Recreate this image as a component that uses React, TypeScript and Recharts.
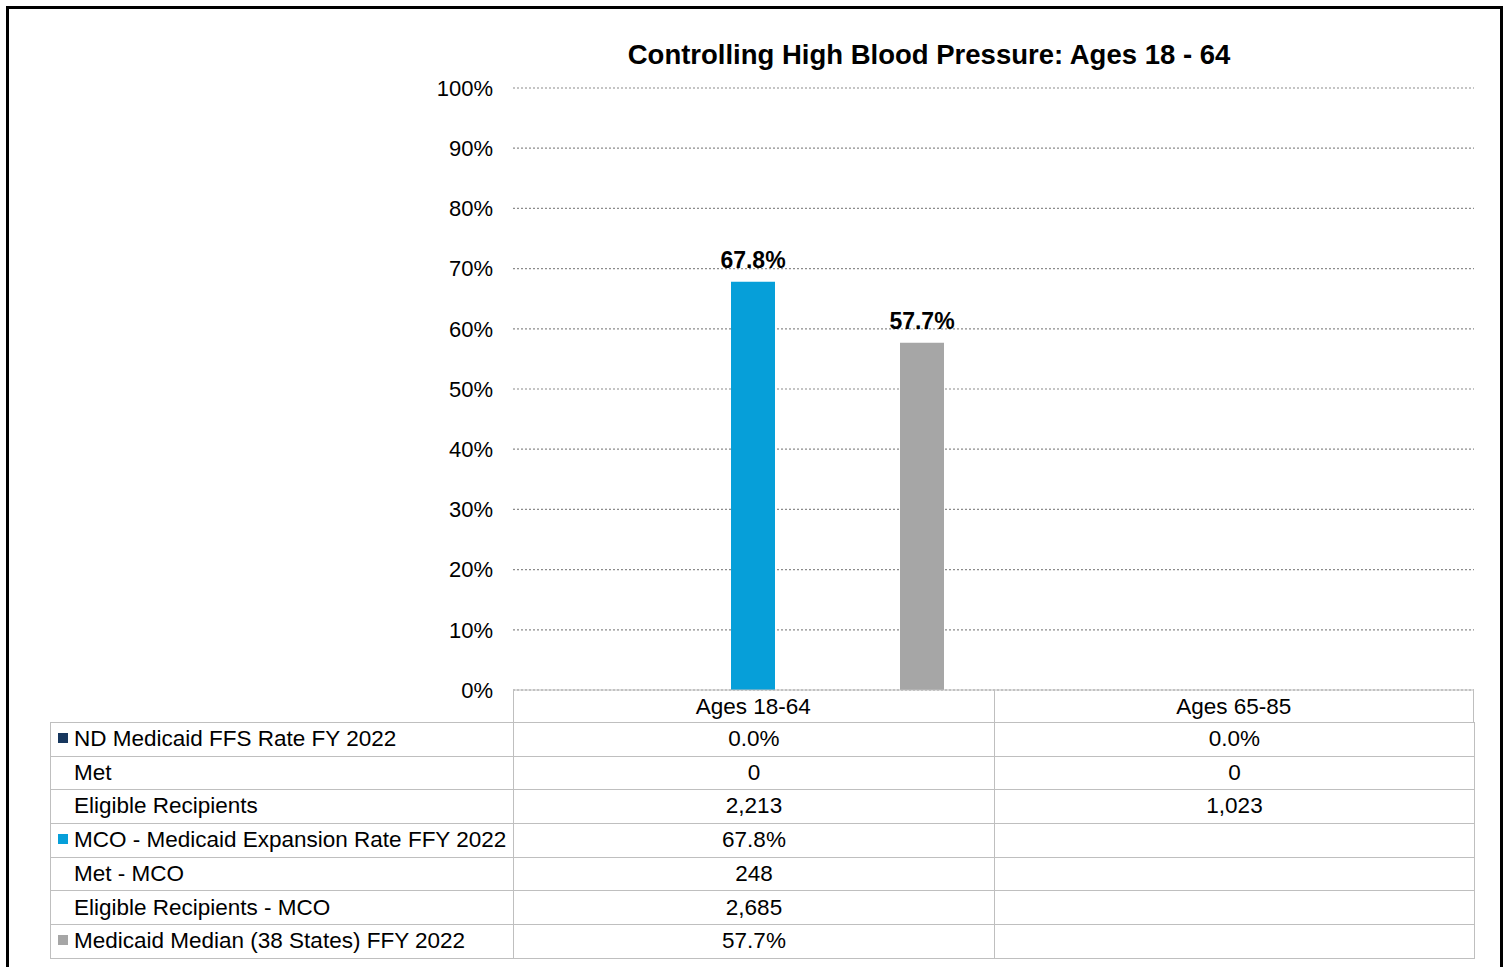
import React from "react";
import { BarChart, Bar, XAxis, YAxis, CartesianGrid, LabelList } from "recharts";

const categories = ["Ages 18-64", "Ages 65-85"];
const ffsRate = [0, 0];
const mcoRate: (number | null)[] = [67.8, null];
const medianRate: (number | null)[] = [57.7, null];
const yTicks = [0, 10, 20, 30, 40, 50, 60, 70, 80, 90, 100];

const tableRows: { label: string; swatch: string | null; values: string[] }[] = [
  { label: "ND Medicaid FFS Rate FY 2022", swatch: "#17375e", values: ["0.0%", "0.0%"] },
  { label: "Met", swatch: null, values: ["0", "0"] },
  { label: "Eligible Recipients", swatch: null, values: ["2,213", "1,023"] },
  { label: "MCO - Medicaid Expansion Rate FFY 2022", swatch: "#069fd9", values: ["67.8%", ""] },
  { label: "Met - MCO", swatch: null, values: ["248", ""] },
  { label: "Eligible Recipients - MCO", swatch: null, values: ["2,685", ""] },
  { label: "Medicaid Median (38 States) FFY 2022", swatch: "#a6a6a6", values: ["57.7%", ""] },
];

const data = categories.map((c, i) => ({
  name: c,
  ffs: ffsRate[i],
  mco: mcoRate[i],
  median: medianRate[i],
}));

const FONT = "'Liberation Sans', Arial, sans-serif";
const GRID = "#bfbfbf";

export default function App() {
  const rowH = 33.7;
  return (
    <div style={{ position: "absolute", left: 0, top: 0, width: 1506, height: 967, overflow: "hidden", background: "#fff", fontFamily: FONT }}>
      <BarChart
        width={1506}
        height={967}
        data={data}
        margin={{ top: 88, right: 32, bottom: 245, left: 433 }}
        barGap={125}
        barSize={44}
      >
        <text x={929} y={64} textAnchor="middle" fontFamily={FONT} fontWeight="bold" fontSize={27.5} fill="#000">
          Controlling High Blood Pressure: Ages 18 - 64
        </text>
        <CartesianGrid vertical={false} stroke="#8c8c8c" strokeWidth={1.2} strokeDasharray="2 2" />
        <XAxis
          dataKey="name"
          height={32}
          axisLine={{ stroke: GRID }}
          tickLine={false}
          tick={{ fontSize: 22.5, fill: "#000", fontFamily: FONT }}
          interval={0}
        />
        <YAxis
          width={80}
          domain={[0, 100]}
          ticks={yTicks}
          tickFormatter={(v: number) => `${v}%`}
          axisLine={false}
          tickLine={false}
          tickSize={0}
          tickMargin={20}
          tick={{ fontSize: 22, fill: "#000", fontFamily: FONT }}
        />
        <Bar dataKey="ffs" fill="#17375e" isAnimationActive={false} />
        <Bar dataKey="mco" fill="#069fd9" isAnimationActive={false}>
          <LabelList dataKey="mco" position="top" offset={14} formatter={(v: any) => (v == null ? "" : `${Number(v).toFixed(1)}%`)} style={{ fontSize: 23, fontWeight: "bold", fill: "#000", fontFamily: FONT }} />
        </Bar>
        <Bar dataKey="median" fill="#a6a6a6" isAnimationActive={false}>
          <LabelList dataKey="median" position="top" offset={14} formatter={(v: any) => (v == null ? "" : `${Number(v).toFixed(1)}%`)} style={{ fontSize: 23, fontWeight: "bold", fill: "#000", fontFamily: FONT }} />
        </Bar>
      </BarChart>

      {/* header row cell borders */}
      <div style={{ position: "absolute", left: 513, top: 690, width: 961, height: 32, display: "flex", boxSizing: "border-box" }}>
        {categories.map((c, i) => (
          <div key={c} style={{ width: i === 0 ? 481 : 480, height: 32, borderLeft: `1px solid ${GRID}`, borderRight: i === 1 ? `1px solid ${GRID}` : "none", boxSizing: "border-box" }} />
        ))}
      </div>

      <table
        style={{
          position: "absolute",
          left: 50,
          top: 722,
          width: 1424,
          borderCollapse: "collapse",
          tableLayout: "fixed",
          fontFamily: FONT,
          fontSize: 22.5,
          color: "#000",
        }}
      >
        <colgroup>
          <col style={{ width: 463 }} />
          <col style={{ width: 481 }} />
          <col style={{ width: 480 }} />
        </colgroup>
        <tbody>
          {tableRows.map((r) => (
            <tr key={r.label} style={{ height: rowH }}>
              <td style={{ border: `1px solid ${GRID}`, padding: 0, paddingLeft: 7, whiteSpace: "nowrap", height: rowH, boxSizing: "border-box", lineHeight: 1 }}>
                <span style={{ display: "inline-block", width: 10, height: 10, background: r.swatch || "transparent", marginRight: 6, verticalAlign: "middle", position: "relative", top: -2 }} />
                {r.label}
              </td>
              {r.values.map((v, j) => (
                <td key={j} style={{ border: `1px solid ${GRID}`, padding: 0, textAlign: "center", height: rowH, boxSizing: "border-box", lineHeight: 1 }}>
                  {v}
                </td>
              ))}
            </tr>
          ))}
        </tbody>
      </table>

      <div style={{ position: "absolute", left: 6, top: 6, width: 1497, height: 1000, border: "3px solid #000", boxSizing: "border-box", pointerEvents: "none" }} />
    </div>
  );
}
